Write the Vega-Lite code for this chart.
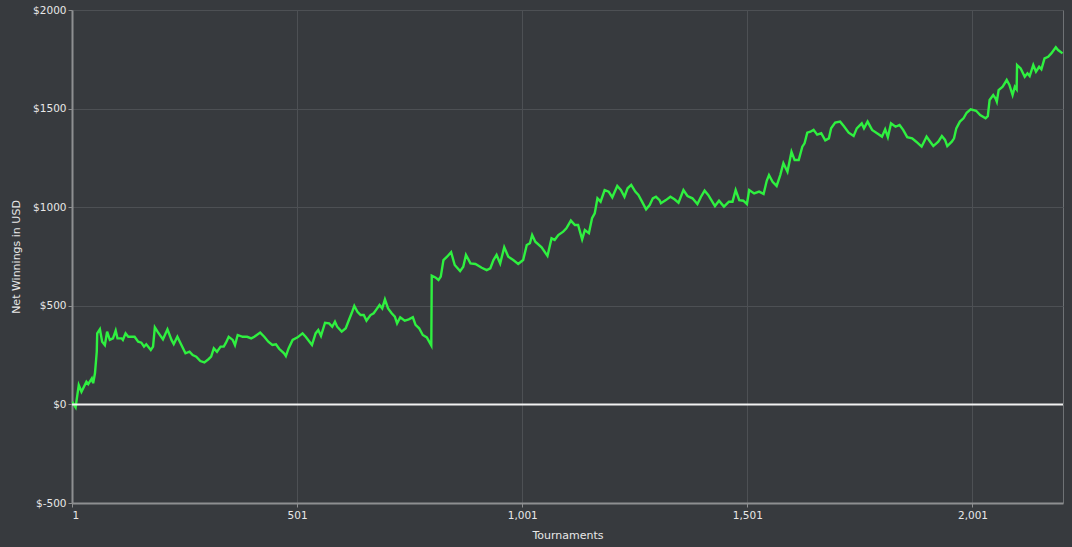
{
  "$schema": "https://vega.github.io/schema/vega-lite/v6.json",
  "width": 991,
  "height": 493,
  "autosize": "none",
  "padding": {"left": 72, "top": 10, "right": 9, "bottom": 44},
  "background": "#373a3e",
  "data": {
    "values": [
      {"t": 1, "usd": 14}, {"t": 9, "usd": -15}, {"t": 16, "usd": 98}, {"t": 22, "usd": 64},
      {"t": 33, "usd": 115}, {"t": 37, "usd": 103}, {"t": 45, "usd": 132}, {"t": 48, "usd": 107},
      {"t": 52, "usd": 158}, {"t": 56, "usd": 267}, {"t": 57, "usd": 360}, {"t": 63, "usd": 381},
      {"t": 68, "usd": 318}, {"t": 74, "usd": 301}, {"t": 79, "usd": 369}, {"t": 85, "usd": 327},
      {"t": 92, "usd": 335}, {"t": 98, "usd": 374}, {"t": 102, "usd": 335}, {"t": 111, "usd": 335},
      {"t": 114, "usd": 327}, {"t": 120, "usd": 360}, {"t": 126, "usd": 343}, {"t": 140, "usd": 343},
      {"t": 148, "usd": 318}, {"t": 155, "usd": 313}, {"t": 161, "usd": 293}, {"t": 166, "usd": 305},
      {"t": 176, "usd": 276}, {"t": 181, "usd": 293}, {"t": 185, "usd": 391}, {"t": 191, "usd": 369},
      {"t": 203, "usd": 330}, {"t": 213, "usd": 381}, {"t": 222, "usd": 327}, {"t": 227, "usd": 306},
      {"t": 235, "usd": 343}, {"t": 244, "usd": 301}, {"t": 253, "usd": 259}, {"t": 262, "usd": 267},
      {"t": 269, "usd": 250}, {"t": 277, "usd": 242}, {"t": 286, "usd": 220}, {"t": 295, "usd": 213},
      {"t": 304, "usd": 229}, {"t": 310, "usd": 242}, {"t": 316, "usd": 284}, {"t": 323, "usd": 267},
      {"t": 331, "usd": 293}, {"t": 338, "usd": 293}, {"t": 343, "usd": 313}, {"t": 349, "usd": 343},
      {"t": 358, "usd": 327}, {"t": 363, "usd": 301}, {"t": 369, "usd": 352}, {"t": 380, "usd": 343},
      {"t": 390, "usd": 343}, {"t": 399, "usd": 335}, {"t": 406, "usd": 343}, {"t": 419, "usd": 364},
      {"t": 428, "usd": 343}, {"t": 437, "usd": 318}, {"t": 446, "usd": 301}, {"t": 454, "usd": 305},
      {"t": 461, "usd": 282}, {"t": 472, "usd": 259}, {"t": 476, "usd": 245}, {"t": 482, "usd": 284},
      {"t": 491, "usd": 327}, {"t": 502, "usd": 340}, {"t": 513, "usd": 360}, {"t": 520, "usd": 343},
      {"t": 534, "usd": 301}, {"t": 542, "usd": 360}, {"t": 548, "usd": 377}, {"t": 554, "usd": 347},
      {"t": 563, "usd": 414}, {"t": 572, "usd": 411}, {"t": 579, "usd": 394}, {"t": 585, "usd": 419},
      {"t": 590, "usd": 394}, {"t": 600, "usd": 369}, {"t": 609, "usd": 386}, {"t": 616, "usd": 428},
      {"t": 622, "usd": 462}, {"t": 628, "usd": 499}, {"t": 635, "usd": 470}, {"t": 642, "usd": 453},
      {"t": 649, "usd": 453}, {"t": 655, "usd": 425}, {"t": 664, "usd": 453}, {"t": 671, "usd": 462},
      {"t": 676, "usd": 478}, {"t": 684, "usd": 504}, {"t": 690, "usd": 487}, {"t": 696, "usd": 533},
      {"t": 703, "usd": 487}, {"t": 711, "usd": 462}, {"t": 718, "usd": 445}, {"t": 723, "usd": 411},
      {"t": 730, "usd": 442}, {"t": 740, "usd": 425}, {"t": 749, "usd": 431}, {"t": 758, "usd": 442},
      {"t": 764, "usd": 403}, {"t": 772, "usd": 386}, {"t": 780, "usd": 352}, {"t": 789, "usd": 340},
      {"t": 799, "usd": 299}, {"t": 800, "usd": 653}, {"t": 808, "usd": 644}, {"t": 815, "usd": 631},
      {"t": 820, "usd": 648}, {"t": 826, "usd": 732}, {"t": 834, "usd": 749}, {"t": 843, "usd": 772},
      {"t": 851, "usd": 707}, {"t": 863, "usd": 676}, {"t": 870, "usd": 698}, {"t": 876, "usd": 758},
      {"t": 886, "usd": 715}, {"t": 897, "usd": 712}, {"t": 911, "usd": 693}, {"t": 922, "usd": 681},
      {"t": 930, "usd": 690}, {"t": 937, "usd": 732}, {"t": 944, "usd": 758}, {"t": 952, "usd": 715},
      {"t": 961, "usd": 797}, {"t": 970, "usd": 749}, {"t": 981, "usd": 732}, {"t": 992, "usd": 712},
      {"t": 1003, "usd": 732}, {"t": 1011, "usd": 808}, {"t": 1018, "usd": 817}, {"t": 1023, "usd": 859},
      {"t": 1030, "usd": 825}, {"t": 1044, "usd": 797}, {"t": 1057, "usd": 753}, {"t": 1066, "usd": 842},
      {"t": 1073, "usd": 834}, {"t": 1081, "usd": 859}, {"t": 1092, "usd": 876}, {"t": 1099, "usd": 893},
      {"t": 1109, "usd": 932}, {"t": 1118, "usd": 910}, {"t": 1125, "usd": 910}, {"t": 1134, "usd": 837},
      {"t": 1140, "usd": 884}, {"t": 1149, "usd": 868}, {"t": 1156, "usd": 944}, {"t": 1162, "usd": 969},
      {"t": 1168, "usd": 1045}, {"t": 1175, "usd": 1028}, {"t": 1184, "usd": 1087}, {"t": 1193, "usd": 1079},
      {"t": 1201, "usd": 1050}, {"t": 1212, "usd": 1108}, {"t": 1220, "usd": 1087}, {"t": 1228, "usd": 1053},
      {"t": 1235, "usd": 1096}, {"t": 1243, "usd": 1113}, {"t": 1252, "usd": 1079}, {"t": 1259, "usd": 1062},
      {"t": 1267, "usd": 1028}, {"t": 1276, "usd": 989}, {"t": 1284, "usd": 1011}, {"t": 1291, "usd": 1045},
      {"t": 1298, "usd": 1053}, {"t": 1306, "usd": 1036}, {"t": 1309, "usd": 1020}, {"t": 1320, "usd": 1036},
      {"t": 1330, "usd": 1053}, {"t": 1339, "usd": 1040}, {"t": 1348, "usd": 1023}, {"t": 1359, "usd": 1087},
      {"t": 1368, "usd": 1057}, {"t": 1379, "usd": 1045}, {"t": 1390, "usd": 1016}, {"t": 1398, "usd": 1053},
      {"t": 1406, "usd": 1084}, {"t": 1414, "usd": 1062}, {"t": 1421, "usd": 1036}, {"t": 1429, "usd": 1006},
      {"t": 1438, "usd": 1033}, {"t": 1449, "usd": 1003}, {"t": 1460, "usd": 1028}, {"t": 1468, "usd": 1028},
      {"t": 1475, "usd": 1087}, {"t": 1483, "usd": 1036}, {"t": 1492, "usd": 1033}, {"t": 1500, "usd": 1016},
      {"t": 1505, "usd": 1087}, {"t": 1516, "usd": 1070}, {"t": 1527, "usd": 1079}, {"t": 1537, "usd": 1067},
      {"t": 1544, "usd": 1134}, {"t": 1549, "usd": 1163}, {"t": 1557, "usd": 1129}, {"t": 1566, "usd": 1108},
      {"t": 1574, "usd": 1163}, {"t": 1581, "usd": 1223}, {"t": 1590, "usd": 1180}, {"t": 1599, "usd": 1281},
      {"t": 1606, "usd": 1239}, {"t": 1615, "usd": 1239}, {"t": 1623, "usd": 1307}, {"t": 1628, "usd": 1324},
      {"t": 1634, "usd": 1378}, {"t": 1641, "usd": 1383}, {"t": 1648, "usd": 1392}, {"t": 1656, "usd": 1368},
      {"t": 1665, "usd": 1375}, {"t": 1674, "usd": 1339}, {"t": 1682, "usd": 1349}, {"t": 1687, "usd": 1400},
      {"t": 1696, "usd": 1429}, {"t": 1707, "usd": 1434}, {"t": 1715, "usd": 1412}, {"t": 1726, "usd": 1378},
      {"t": 1737, "usd": 1361}, {"t": 1744, "usd": 1400}, {"t": 1755, "usd": 1425}, {"t": 1760, "usd": 1400},
      {"t": 1768, "usd": 1434}, {"t": 1778, "usd": 1392}, {"t": 1789, "usd": 1375}, {"t": 1800, "usd": 1358},
      {"t": 1807, "usd": 1395}, {"t": 1813, "usd": 1355}, {"t": 1820, "usd": 1425}, {"t": 1830, "usd": 1408},
      {"t": 1839, "usd": 1417}, {"t": 1847, "usd": 1392}, {"t": 1856, "usd": 1355}, {"t": 1867, "usd": 1349},
      {"t": 1876, "usd": 1332}, {"t": 1888, "usd": 1307}, {"t": 1899, "usd": 1358}, {"t": 1907, "usd": 1332},
      {"t": 1914, "usd": 1310}, {"t": 1925, "usd": 1332}, {"t": 1933, "usd": 1361}, {"t": 1940, "usd": 1341},
      {"t": 1945, "usd": 1310}, {"t": 1955, "usd": 1332}, {"t": 1960, "usd": 1349}, {"t": 1965, "usd": 1400},
      {"t": 1973, "usd": 1434}, {"t": 1981, "usd": 1451}, {"t": 1988, "usd": 1479}, {"t": 1997, "usd": 1496},
      {"t": 2009, "usd": 1489}, {"t": 2018, "usd": 1467}, {"t": 2030, "usd": 1451}, {"t": 2035, "usd": 1462},
      {"t": 2039, "usd": 1544}, {"t": 2047, "usd": 1569}, {"t": 2052, "usd": 1552}, {"t": 2055, "usd": 1535},
      {"t": 2059, "usd": 1594}, {"t": 2068, "usd": 1611}, {"t": 2077, "usd": 1645}, {"t": 2083, "usd": 1620},
      {"t": 2090, "usd": 1569}, {"t": 2095, "usd": 1611}, {"t": 2099, "usd": 1598}, {"t": 2100, "usd": 1721},
      {"t": 2108, "usd": 1704}, {"t": 2117, "usd": 1662}, {"t": 2123, "usd": 1679}, {"t": 2128, "usd": 1665},
      {"t": 2136, "usd": 1721}, {"t": 2142, "usd": 1687}, {"t": 2149, "usd": 1712}, {"t": 2154, "usd": 1699},
      {"t": 2161, "usd": 1755}, {"t": 2169, "usd": 1763}, {"t": 2176, "usd": 1780}, {"t": 2186, "usd": 1811},
      {"t": 2191, "usd": 1797}, {"t": 2201, "usd": 1780}
    ]
  },
  "encoding": {
    "x": {
      "field": "t",
      "type": "quantitative",
      "title": "Tournaments",
      "scale": {"domain": [1, 2202], "nice": false, "zero": false},
      "axis": {"values": [1, 501, 1001, 1501, 2001], "format": ",.0f"}
    },
    "y": {
      "field": "usd",
      "type": "quantitative",
      "title": "Net Winnings in USD",
      "scale": {"domain": [-500, 2000], "nice": false},
      "axis": {"values": [-500, 0, 500, 1000, 1500, 2000], "labelExpr": "'$' + datum.value"}
    }
  },
  "layer": [
    {
      "mark": {"type": "line", "color": "#2ff040", "strokeWidth": 2.4, "clip": true}
    },
    {
      "data": {"values": [{"zero": 0}]},
      "mark": {"type": "rule", "color": "#f2f2f2", "strokeWidth": 2},
      "encoding": {"x": null, "y": {"field": "zero", "type": "quantitative"}}
    }
  ],
  "config": {
    "font": "DejaVu Sans",
    "view": {"stroke": "#6f7275", "strokeWidth": 1},
    "axis": {
      "domainColor": "#8e8f91",
      "domainWidth": 2,
      "gridColor": "#4d5054",
      "gridWidth": 1,
      "tickColor": "#8e8f91",
      "tickSize": 4,
      "labelColor": "#e8e8e8",
      "labelFontSize": 10.5,
      "titleColor": "#e8e8e8",
      "titleFontSize": 11,
      "titleFontWeight": "normal"
    },
    "axisX": {"labelPadding": 3, "titlePadding": 9},
    "axisY": {"labelPadding": 2, "titlePadding": 11}
  }
}
